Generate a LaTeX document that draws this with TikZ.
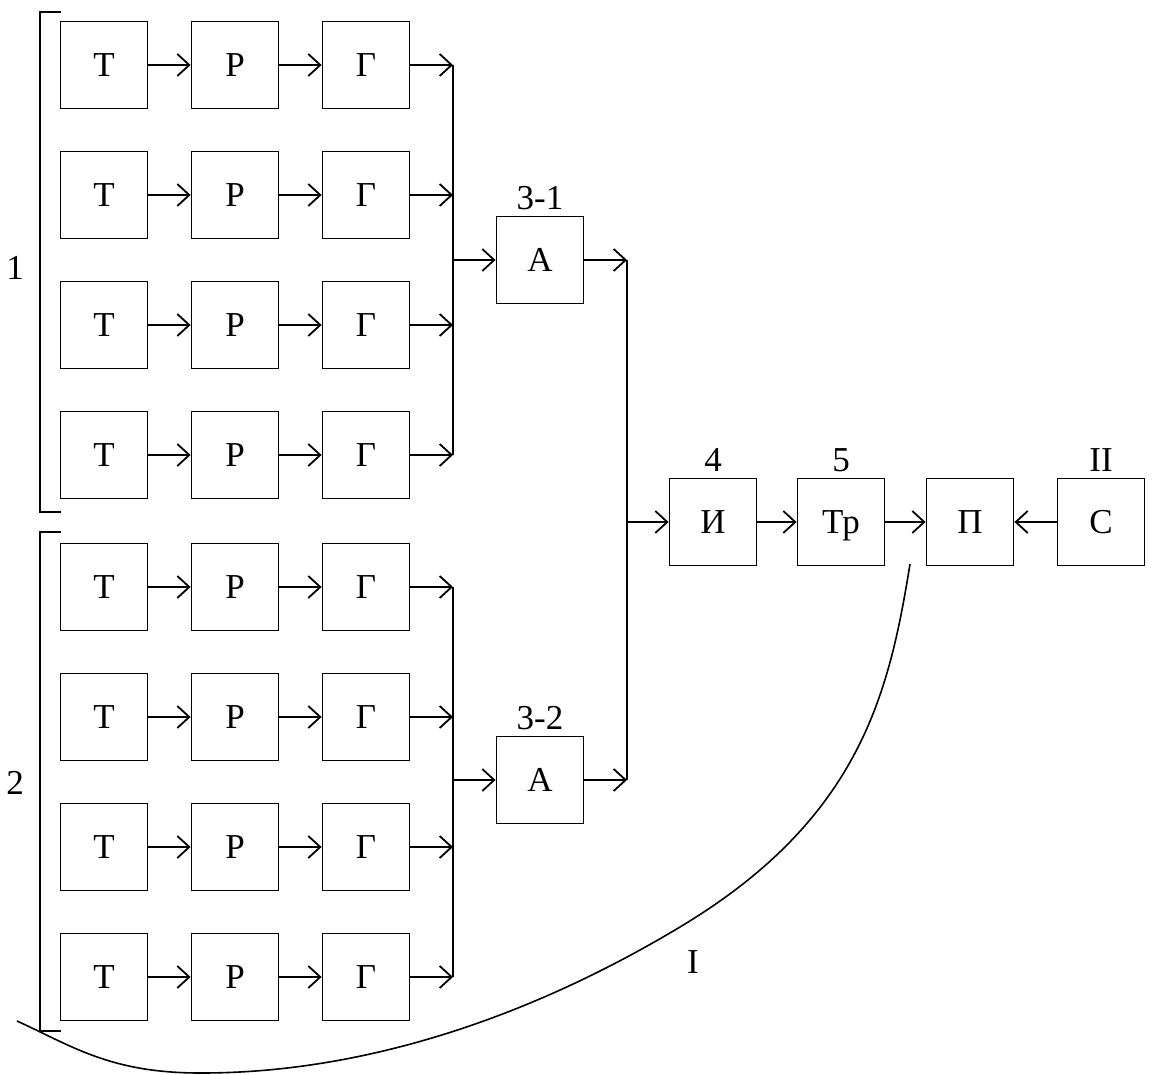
\documentclass[tikz,border=0pt]{standalone}
\usepackage{fontspec}
\setmainfont{Liberation Serif}
\usetikzlibrary{arrows.meta}
\begin{document}
\begin{tikzpicture}[x=1pt,y=-1pt,
  blk/.style={draw, line width=1.8pt, minimum width=87pt, minimum height=87pt,
              inner sep=0pt, text height=23pt, text depth=0pt,
              font=\fontsize{35}{38}\selectfont},
  lbl/.style={font=\fontsize{35}{38}\selectfont, inner sep=0pt},
  conn/.style={line width=1.8pt, -{Straight Barb[length=12pt,width=22pt,line width=1.8pt]}},
  wire/.style={line width=1.8pt}]
\useasboundingbox (0,0) rectangle (1154,1075);

% eight chains T -> P -> G feeding two collecting buses
\foreach \i/\y in {1/65,2/195,3/325,4/455,5/587,6/717,7/847,8/977} {
  \node[blk] (t\i) at (104,\y) {Т};
  \node[blk] (r\i) at (235,\y) {Р};
  \node[blk] (g\i) at (366,\y) {Г};
  \coordinate (b\i) at (453,\y);
  \draw[conn] (t\i) -- (r\i);
  \draw[conn] (r\i) -- (g\i);
  \draw[conn] (g\i) -- (b\i);
}
\draw[wire] (b1) -- (b4);
\draw[wire] (b5) -- (b8);

% group brackets
\draw[wire] (61,12) -- (40,12) -- (40,512) -- (61,512);
\draw[wire] (61,532) -- (40,532) -- (40,1031) -- (61,1031);
\node[lbl] (n1) at (15,268) {1};
\node[lbl] (n2) at (15,783) {2};

% adders
\coordinate (j1) at (453,260);
\coordinate (j2) at (453,780);
\node[blk] (a1) at (540,260) {А};
\node[blk] (a2) at (540,780) {А};
\node[lbl, anchor=south] (la1) at (540,210) {3-1};
\node[lbl, anchor=south] (la2) at (540,730) {3-2};
\draw[conn] (j1) -- (a1);
\draw[conn] (j2) -- (a2);

\coordinate (c1) at (627,260);
\coordinate (c2) at (627,780);
\coordinate (c3) at (627,522);
\draw[conn] (a1) -- (c1);
\draw[conn] (a2) -- (c2);
\draw[wire] (c1) -- (c2);

% output chain
\node[blk] (ii) at (713,522) {И};
\node[blk] (tr) at (841,522) {Тр};
\node[blk] (pp) at (970,522) {П};
\node[blk] (ss) at (1101,522) {С};
\node[lbl, anchor=south] (l4) at (713,472) {4};
\node[lbl, anchor=south] (l5) at (841,472) {5};
\node[lbl, anchor=south] (l2) at (1101,472) {II};
\draw[conn] (c3) -- (ii);
\draw[conn] (ii) -- (tr);
\draw[conn] (tr) -- (pp);
\draw[conn] (ss) -- (pp);

% boundary curve I
\coordinate (k0) at (910,564);
\coordinate (k1) at (680,927);
\coordinate (k2) at (200,1073);
\coordinate (k3) at (17,1021);
\draw[line width=1.6pt] (k0) .. controls (889,694) and (860,819) .. (k1)
  .. controls (450,1065) and (270,1073) .. (k2)
  .. controls (110,1073) and (72,1046) .. (k3);
\node[lbl] (lI) at (693,962) {I};
\end{tikzpicture}
\end{document}
